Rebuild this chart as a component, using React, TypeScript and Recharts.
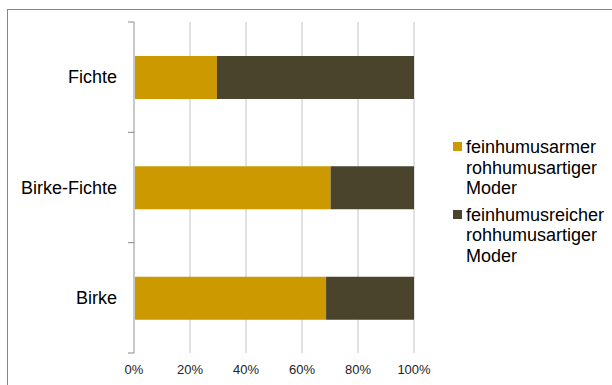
import React from 'react'
import { BarChart, Bar, XAxis, YAxis, CartesianGrid } from 'recharts'

const categories = ['Fichte', 'Birke-Fichte', 'Birke']
const armer = [29.6, 70.2, 68.6]
const reicher = [70.4, 29.8, 31.4]
const xTicks = [0, 20, 40, 60, 80, 100]
const seriesNames = ['feinhumusarmer rohhumusartiger Moder', 'feinhumusreicher rohhumusartiger Moder']
const seriesColors = ['#cc9900', '#4a442d']

const data = categories.map((name, i) => ({ name, armer: armer[i], reicher: reicher[i] }))

const FONT = '"Liberation Sans", Arial, sans-serif'

function CategoryTick(props: any) {
  const { x, y, payload, index, height, visibleTicksCount } = props
  const band = height / visibleTicksCount
  const axisX = x + 17
  return (
    <g>
      <text x={x} y={y} dy="0.35em" textAnchor="end" fontSize={18} fill="#000" fontFamily={FONT}>
        {payload.value}
      </text>
      <line x1={axisX - 6} x2={axisX} y1={y - band / 2} y2={y - band / 2} stroke="#888" />
      {index === visibleTicksCount - 1 && (
        <line x1={axisX - 6} x2={axisX} y1={y + band / 2} y2={y + band / 2} stroke="#888" />
      )}
    </g>
  )
}

function LegendBox() {
  return (
    <div
      style={{
        position: 'absolute',
        left: 453,
        top: 137,
        fontFamily: FONT,
        fontSize: 18,
        lineHeight: '20.5px',
        color: '#000',
      }}
    >
      {seriesNames.map((name, i) => (
        <div key={name} style={{ display: 'flex', alignItems: 'flex-start', marginBottom: 6 }}>
          <div style={{ width: 9, height: 9, background: seriesColors[i], marginTop: 5, marginRight: 4, flex: 'none' }} />
          <div style={{ width: 140 }}>{name}</div>
        </div>
      ))}
    </div>
  )
}

export default function App() {
  return (
    <div style={{ position: 'absolute', left: 0, top: 0, width: 612, height: 385, background: '#fff', overflow: 'hidden' }}>
      <div style={{ position: 'absolute', left: 7, top: 9, width: 700, height: 500, border: '1px solid #868686' }} />
      <div style={{ position: 'absolute', left: 0, top: 0 }}>
        <BarChart
          width={612}
          height={385}
          layout="vertical"
          data={data}
          margin={{ top: 22, right: 198, bottom: 2, left: 0 }}
        >
          <CartesianGrid horizontal={false} stroke="#c4c4c4" />
          <XAxis
            type="number"
            domain={[0, 100]}
            ticks={xTicks}
            interval={0}
            tickFormatter={(v: number) => `${v}%`}
            axisLine={false}
            tickLine={false}
            height={30}
            tickMargin={6}
            tick={{ fontSize: 13, fill: '#222', fontFamily: FONT }}
          />
          <YAxis
            type="category"
            dataKey="name"
            width={134}
            tickSize={6}
            tickMargin={11}
            tickLine={false}
            axisLine={{ stroke: '#c8c8c8', strokeWidth: 2 }}
            tick={<CategoryTick />}
          />
          <Bar dataKey="armer" name={seriesNames[0]} stackId="a" fill={seriesColors[0]} barSize={43} isAnimationActive={false} />
          <Bar dataKey="reicher" name={seriesNames[1]} stackId="a" fill={seriesColors[1]} barSize={43} isAnimationActive={false} />
        </BarChart>
      </div>
      <LegendBox />
    </div>
  )
}
